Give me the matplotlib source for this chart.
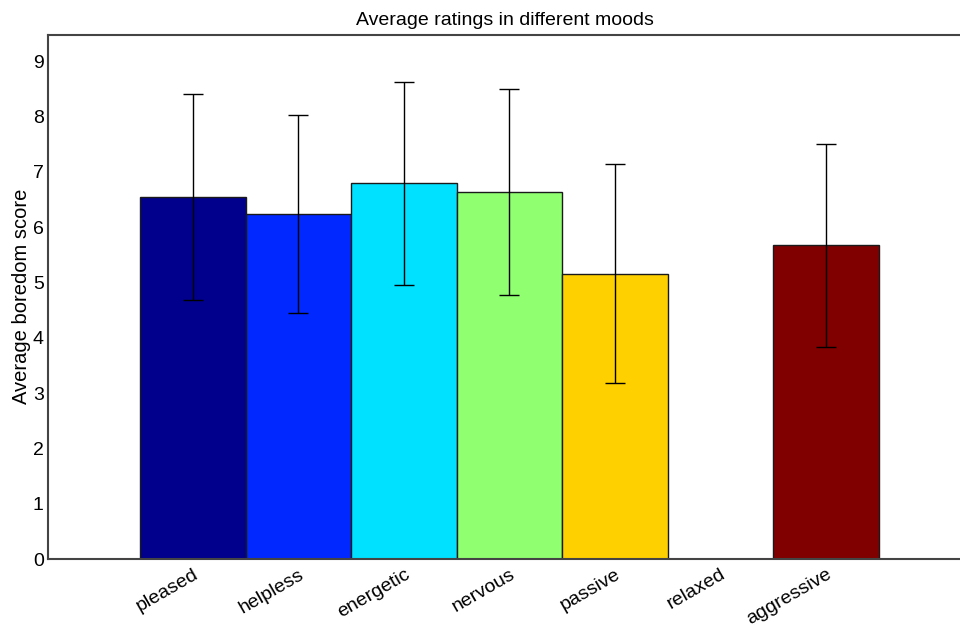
import numpy as np
import matplotlib as mpl
mpl.use("Agg")
import matplotlib.pyplot as plt

mpl.rcParams.update({
    "font.family": ["Liberation Sans", "DejaVu Sans"],
    "font.size": 14,
})

moods = ['pleased', 'helpless', 'energetic', 'nervous', 'passive', 'relaxed', 'aggressive']
mean_score = [6.55, 6.23, 6.79, 6.63, 5.16, np.nan, 5.67]
err_score = [1.86, 1.79, 1.83, 1.86, 1.98, np.nan, 1.83]

# jet-like colours, one per mood
bar_colors = ['#00008c', '#0028ff', '#00e0ff', '#90ff70', '#ffd000', '#ff3000', '#800000']

fig = plt.figure(figsize=(9.6, 6.28), dpi=100)
ax = fig.add_axes([48/960, 1 - 559/628, 913/960, (559 - 34.5)/628])

x = np.arange(1, len(moods) + 1)
ax.bar(x, mean_score, width=1.0, color=bar_colors, edgecolor='#1a1a1a', linewidth=1.0)
ax.errorbar(x, mean_score, yerr=err_score, fmt='none', ecolor='black',
            elinewidth=1.0, capsize=7, capthick=1.0)

ax.set_xlim(-0.374, 8.28)
ax.set_ylim(0, 9.48)
ax.set_yticks(range(0, 10))
ax.set_xticks(x)
ax.set_xticklabels(moods, rotation=30, ha='right', va='top', rotation_mode='anchor')
ax.tick_params(axis='both', length=0, labelsize=14)
ax.tick_params(axis='x', pad=5)
ax.tick_params(axis='y', pad=3)

for side in ['left', 'bottom', 'top']:
    ax.spines[side].set_color('#444444')
    ax.spines[side].set_linewidth(1.5)
ax.spines['right'].set_visible(False)

ax.set_ylabel('Average boredom score', fontsize=14.5, labelpad=1.5)
ax.set_title('Average ratings in different moods', fontsize=14, pad=6.5)

fig.savefig('out.png', dpi=100)
plt.close(fig)
